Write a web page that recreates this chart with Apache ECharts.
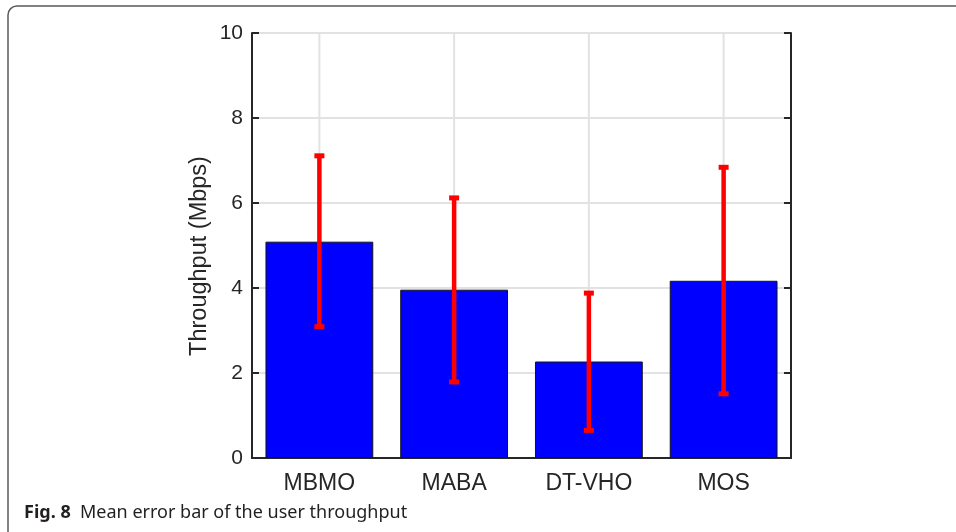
<!DOCTYPE html>
<html>
<head>
<meta charset="utf-8">
<style>
  html, body { margin: 0; padding: 0; background: #fff; }
  #main { width: 956px; height: 532px; }
</style>
<script src="https://cdn.jsdelivr.net/npm/echarts@6/dist/echarts.min.js"></script>
</head>
<body>
<div id="main"></div>
<script>
const categories = ['MBMO', 'MABA', 'DT-VHO', 'MOS'];
const meanValues = [5.09, 3.96, 2.27, 4.17];
const lowerValues = [3.09, 1.79, 0.65, 1.51];
const upperValues = [7.11, 6.12, 3.88, 6.84];
const yTicks = [0, 2, 4, 6, 8, 10];

const chart = echarts.init(document.getElementById('main'));

const axisColor = '#262626';
const gridColor = '#e2e2e2';
const font = 'Liberation Sans, Arial, sans-serif';

// vertical grid lines at category centres (MATLAB style)
function renderVGrid(params, api) {
  const top = api.coord([api.value(0), yTicks[yTicks.length - 1]]);
  const bottom = api.coord([api.value(0), yTicks[0]]);
  return {
    type: 'line',
    shape: { x1: top[0], y1: top[1], x2: bottom[0], y2: bottom[1] },
    style: { stroke: gridColor, lineWidth: 2 }
  };
}

function renderErrorBar(params, api) {
  const lo = api.coord([api.value(0), api.value(1)]);
  const hi = api.coord([api.value(0), api.value(2)]);
  const capW = 5;
  const style = { stroke: '#ff0000', lineWidth: 4.5 };
  const capStyle = { stroke: '#ff0000', lineWidth: 5 };
  return {
    type: 'group',
    children: [
      { type: 'line', shape: { x1: lo[0], y1: lo[1], x2: hi[0], y2: hi[1] }, style: style },
      { type: 'line', shape: { x1: lo[0] - capW, y1: lo[1], x2: lo[0] + capW, y2: lo[1] }, style: capStyle },
      { type: 'line', shape: { x1: hi[0] - capW, y1: hi[1], x2: hi[0] + capW, y2: hi[1] }, style: capStyle }
    ]
  };
}

const option = {
  animation: false,
  backgroundColor: '#fff',
  grid: { left: 252, right: 165, top: 33, bottom: 74 },
  xAxis: [{
    type: 'category',
    data: categories,
    axisLine: { lineStyle: { color: axisColor, width: 2 } },
    axisTick: { inside: true, alignWithLabel: true, length: 7, lineStyle: { color: axisColor, width: 2 } },
    axisLabel: { color: axisColor, fontSize: 23, fontFamily: font, margin: 14 },
    splitLine: { show: false }
  }, {
    type: 'category',
    position: 'top',
    data: categories,
    axisLine: { lineStyle: { color: axisColor, width: 2 } },
    axisTick: { inside: true, alignWithLabel: true, length: 7, lineStyle: { color: axisColor, width: 2 } },
    axisLabel: { show: false }
  }],
  yAxis: [{
    type: 'value',
    min: 0,
    max: 10,
    interval: 2,
    axisLine: { show: true, lineStyle: { color: axisColor, width: 2 } },
    axisTick: { show: true, inside: true, length: 7, lineStyle: { color: axisColor, width: 2 } },
    axisLabel: { color: axisColor, fontSize: 21, fontFamily: font, margin: 9 },
    splitLine: { show: true, lineStyle: { color: gridColor, width: 2 } }
  }, {
    type: 'value',
    position: 'right',
    min: 0,
    max: 10,
    interval: 2,
    axisLine: { show: true, lineStyle: { color: axisColor, width: 2 } },
    axisTick: { show: true, inside: true, length: 7, lineStyle: { color: axisColor, width: 2 } },
    axisLabel: { show: false },
    splitLine: { show: false }
  }],
  series: [{
    type: 'custom',
    renderItem: renderVGrid,
    data: categories.map((c, i) => [i]),
    z: 1,
    silent: true
  }, {
    type: 'bar',
    data: meanValues,
    barWidth: '80%',
    itemStyle: { color: '#0000ff', borderColor: '#141414', borderWidth: 1 },
    z: 2
  }, {
    type: 'custom',
    renderItem: renderErrorBar,
    data: categories.map((c, i) => [i, lowerValues[i], upperValues[i]]),
    z: 3
  }],
  graphic: [{
    type: 'rect',
    shape: { x: 8, y: 6, width: 980, height: 560, r: 9 },
    style: { fill: null, stroke: '#5a5a5a', lineWidth: 1.5 },
    silent: true
  }, {
    // y axis title, placed by hand (sits a bit below the plot centre)
    type: 'text',
    x: 200,
    y: 256,
    rotation: Math.PI / 2,
    style: {
      text: 'Throughput (Mbps)',
      fontSize: 23.5,
      fontFamily: font,
      fill: axisColor,
      align: 'center',
      verticalAlign: 'middle'
    }
  }, {
    type: 'text',
    left: 24,
    top: 504,
    style: {
      text: '{b|Fig. 8}  Mean error bar of the user throughput',
      fontSize: 18,
      fontFamily: 'Noto Sans, Open Sans, sans-serif',
      fill: '#231f20',
      rich: {
        b: { fontSize: 18, fontWeight: 'bold', fontFamily: 'Noto Sans, Open Sans, sans-serif', fill: '#231f20' }
      }
    }
  }]
};

chart.setOption(option);
</script>
</body>
</html>
